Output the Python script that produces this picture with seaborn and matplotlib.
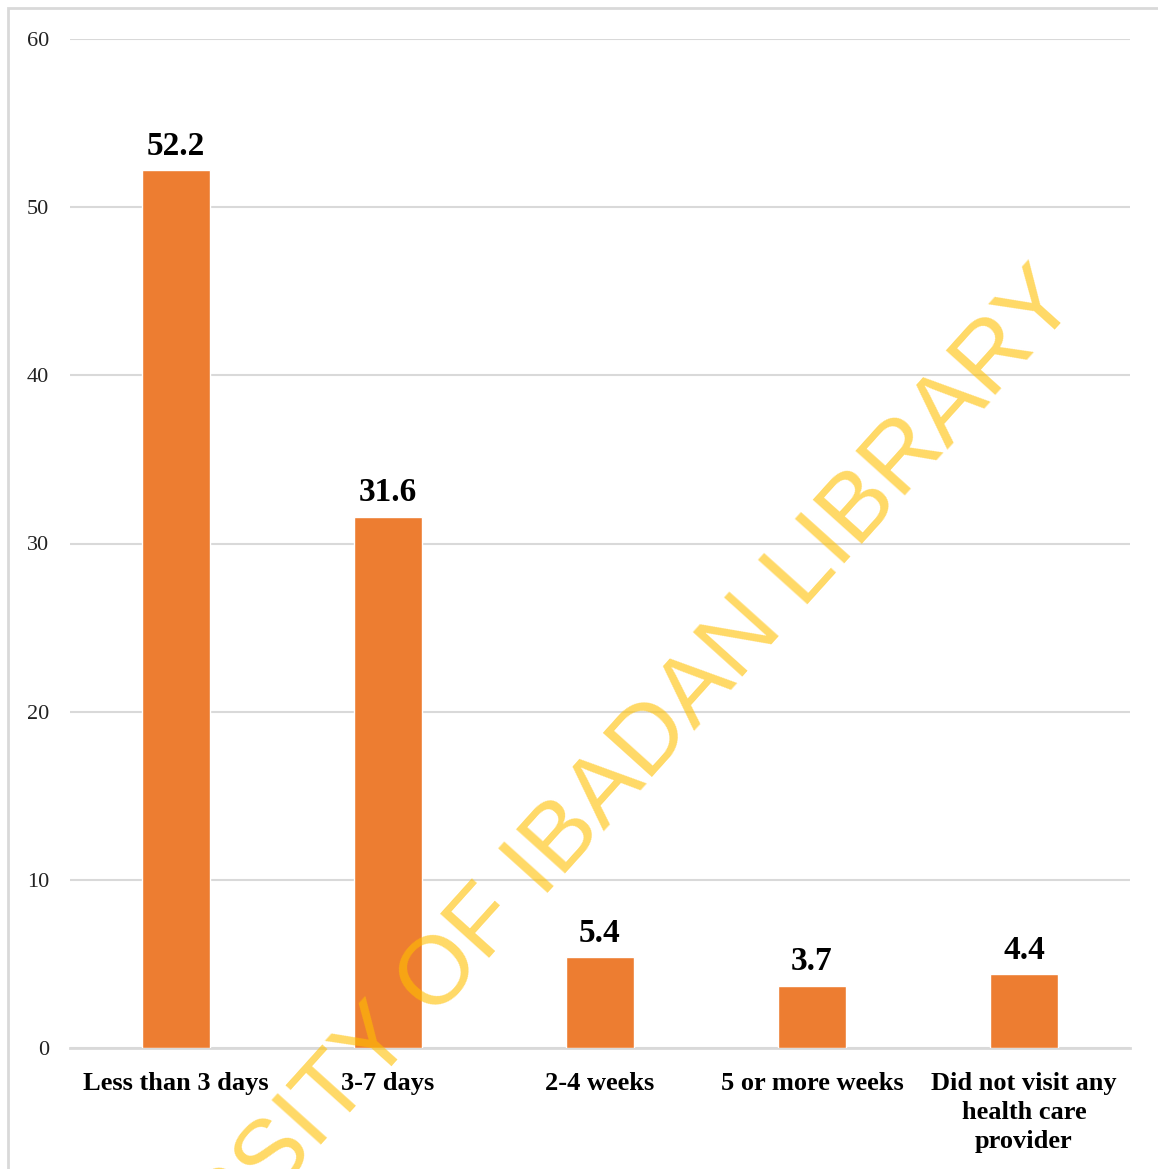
import matplotlib
matplotlib.use("Agg")
import matplotlib.pyplot as plt
import seaborn as sns
import pandas as pd
from matplotlib.patches import Rectangle

categories = ["Less than 3 days", "3-7 days", "2-4 weeks", "5 or more weeks",
              "Did not visit any\nhealth care\nprovider"]
values = [52.2, 31.6, 5.4, 3.7, 4.4]
yticks = [0, 10, 20, 30, 40, 50, 60]

sns.set_theme(style="white")
plt.rcParams['font.family'] = ['Liberation Serif', 'DejaVu Serif']

df = pd.DataFrame({"cat": categories, "val": values})

fig = plt.figure(figsize=(11.58, 11.69), dpi=100)
ax = fig.add_axes([70/1158, 1-1048/1169, 1060/1158, (1048-39)/1169])

sns.barplot(data=df, x="cat", y="val", color="#ED7D31", saturation=1,
            width=0.32, ax=ax, zorder=3)

ax.set_ylim(0, 60)
ax.set_xlim(-0.5, 4.5)
ax.set_yticks(yticks)
ax.set_yticklabels([str(t) for t in yticks], fontsize=16, color="#222222")
ax.set_xticks(range(len(categories)))
ax.set_xticklabels(categories, fontsize=19, fontweight="bold", color="black",
                   linespacing=1.35, va="top")
ax.tick_params(axis="x", length=0, pad=17)
ax.tick_params(axis="y", length=0, pad=15)
ax.set_xlabel("")
ax.set_ylabel("")
ax.yaxis.grid(True, color="#D9D9D9", linewidth=1.5, zorder=0)
ax.set_axisbelow(True)
for s in ["top", "right", "left"]:
    ax.spines[s].set_visible(False)
ax.spines["bottom"].set_color("#D9D9D9")
ax.spines["bottom"].set_linewidth(2)

for c in ax.containers:
    ax.bar_label(c, labels=[f"{v:.1f}" for v in values], padding=6,
                 fontsize=24, fontweight="bold", color="black")

# figure border (left and top edges visible)
fig.patches.append(Rectangle((8/1158, -0.1), 1.1, 1.1 - 8/1169,
                             transform=fig.transFigure, fill=False,
                             edgecolor="#D9D9D9", linewidth=2, zorder=0))

# watermark
fig.text(1080/1158, 1-302/1169, "UNIVERSITY OF IBADAN LIBRARY",
         fontsize=70, family=['Liberation Sans', 'DejaVu Sans'],
         color="#FFC000", alpha=0.6, rotation=48, rotation_mode="anchor",
         ha="right", va="baseline", zorder=10)

fig.savefig("out.png", dpi=100)
